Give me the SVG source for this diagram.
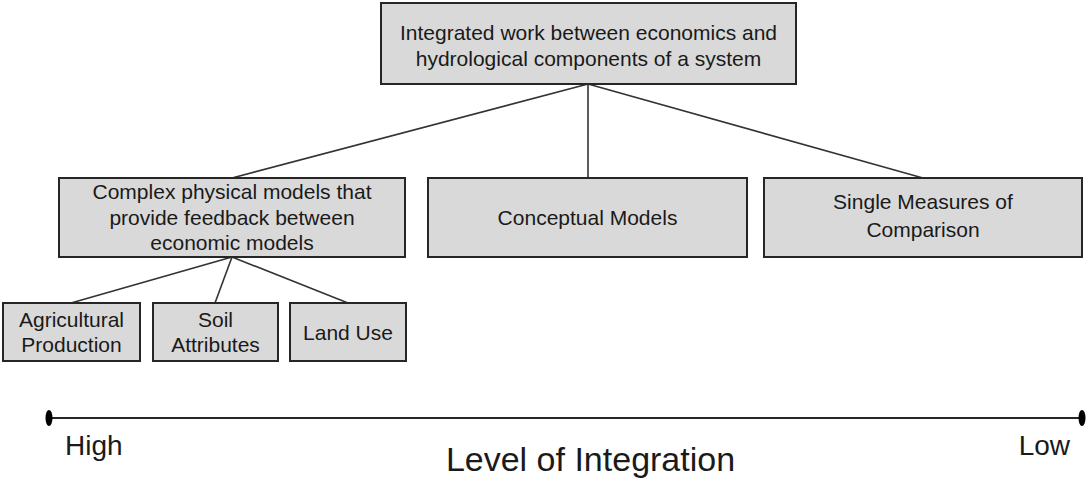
<svg xmlns="http://www.w3.org/2000/svg" width="1089" height="481" viewBox="0 0 1089 481">
<style>
.box{fill:#d9d9d9;stroke:#262626;stroke-width:2}
.t{font-family:"Liberation Sans",Arial,sans-serif;font-size:21px;fill:#1a1a1a;text-anchor:middle}
.c{stroke:#333;stroke-width:1.6;fill:none}
.ax{font-family:"Liberation Sans",Arial,sans-serif;fill:#1a1a1a}
</style>
<rect width="1089" height="481" fill="#fff"/>
<g id="connectors">
<line class="c" x1="588" y1="84" x2="232" y2="178"/>
<line class="c" x1="588" y1="84" x2="588" y2="178"/>
<line class="c" x1="588" y1="84" x2="923" y2="178"/>
<line class="c" x1="232" y1="257" x2="71" y2="303"/>
<line class="c" x1="232" y1="257" x2="215" y2="303"/>
<line class="c" x1="232" y1="257" x2="348" y2="303"/>
</g>
<g id="root">
<rect class="box" x="381" y="3" width="415" height="81"/>
<text class="t" x="588.5" y="40">Integrated work between economics and</text>
<text class="t" x="588.5" y="66">hydrological components of a system</text>
</g>
<g id="complex">
<rect class="box" x="59" y="178" width="346" height="79"/>
<text class="t" x="232" y="199">Complex physical models that</text>
<text class="t" x="232" y="225">provide feedback between</text>
<text class="t" x="232" y="250">economic models</text>
</g>
<g id="conceptual">
<rect class="box" x="428" y="178" width="319" height="79"/>
<text class="t" x="587.5" y="225">Conceptual Models</text>
</g>
<g id="single">
<rect class="box" x="764" y="178" width="318" height="79"/>
<text class="t" x="923" y="209">Single Measures of</text>
<text class="t" x="923" y="237">Comparison</text>
</g>
<g id="agri">
<rect class="box" x="3" y="303" width="137" height="58"/>
<text class="t" x="71.5" y="327">Agricultural</text>
<text class="t" x="71.5" y="352">Production</text>
</g>
<g id="soil">
<rect class="box" x="153" y="303" width="125" height="58"/>
<text class="t" x="215.5" y="327">Soil</text>
<text class="t" x="215.5" y="352">Attributes</text>
</g>
<g id="landuse">
<rect class="box" x="290" y="303" width="116" height="58"/>
<text class="t" x="348" y="340">Land Use</text>
</g>
<g id="axis">
<line x1="49" y1="418" x2="1082" y2="418" stroke="#262626" stroke-width="2"/>
<ellipse cx="49" cy="418" rx="3.5" ry="8" fill="#000"/>
<ellipse cx="1082" cy="418" rx="3.5" ry="8" fill="#000"/>
<text class="ax" x="65" y="455" font-size="28">High</text>
<text class="ax" x="1070" y="455" font-size="28" text-anchor="end">Low</text>
<text class="ax" x="590.5" y="471" font-size="34" text-anchor="middle" fill="#000">Level of Integration</text>
</g>
</svg>
